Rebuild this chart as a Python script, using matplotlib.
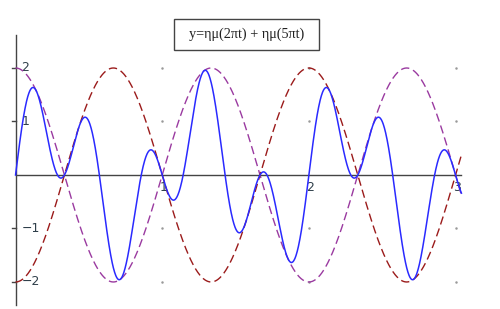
import numpy as np
import matplotlib.pyplot as plt
from matplotlib.patches import Rectangle

# y = sin(2*pi*t) + sin(5*pi*t)  ("ημ" = sin)
freqs = [2, 5]          # multiples of pi in each term
amp = 2                 # envelope amplitude
t_end = 3.04
title = "y=ημ(2πt) + ημ(5πt)"

x_ticks = [1, 2, 3]
y_ticks = [-2, -1, 1, 2]
y_tick_labels = ["\u22122", "\u22121", "1", "2"]

t = np.linspace(0, t_end, 1500)
y = np.sin(freqs[0] * np.pi * t) + np.sin(freqs[1] * np.pi * t)
# envelope from sum-to-product: 2 cos((b-a)/2 * pi t)
env = amp * np.cos((freqs[1] - freqs[0]) / 2 * np.pi * t)

fig = plt.figure(figsize=(5, 3.09), dpi=100)
ax = fig.add_axes([0, 0, 1, 1])
ax.set_xlim(-0.106, 3.303)
ax.set_ylim(-2.505, 3.271)
ax.axis("off")

# axes lines
ax.plot([0, 0], [-2.43, 2.62], color="#444444", lw=1.0)
ax.plot([0, t_end], [0, 0], color="#444444", lw=1.0)

# grid dots
for xt in x_ticks:
    ax.scatter([xt] * len(y_ticks), y_ticks, s=0.6, color="#999999", zorder=1)

# y ticks
for yv, lab in zip(y_ticks, y_tick_labels):
    ax.plot([-0.025, 0], [yv, yv], color="#444444", lw=1.0)
    ax.text(0.04, yv, lab, ha="left", va="center", fontsize=9,
            color="#2f3f4a", family="DejaVu Sans")
for xv in x_ticks:
    ax.text(xv + 0.01, -0.11, str(xv), ha="center", va="top", fontsize=9,
            color="#2f3f4a", family="DejaVu Sans")

ax.plot(t, env, color="#9a3aa0", lw=1.0, dashes=(6, 3), zorder=3)
ax.plot(t, -env, color="#9b1b1b", lw=1.0, dashes=(6, 3), zorder=3)
ax.plot(t, y, color="#2a2aff", lw=1.1, zorder=4)

# title box
fig.patches.append(Rectangle((174 / 500, 1 - 50 / 309), 145 / 500, 31 / 309,
                             transform=fig.transFigure, fill=True,
                             facecolor="white", edgecolor="#444444", lw=1.0))
fig.text(246.5 / 500, 1 - 34.5 / 309, title, ha="center", va="center",
         fontsize=10.3, family="Liberation Serif", color="#222222")

fig.savefig("out.png", dpi=100)
